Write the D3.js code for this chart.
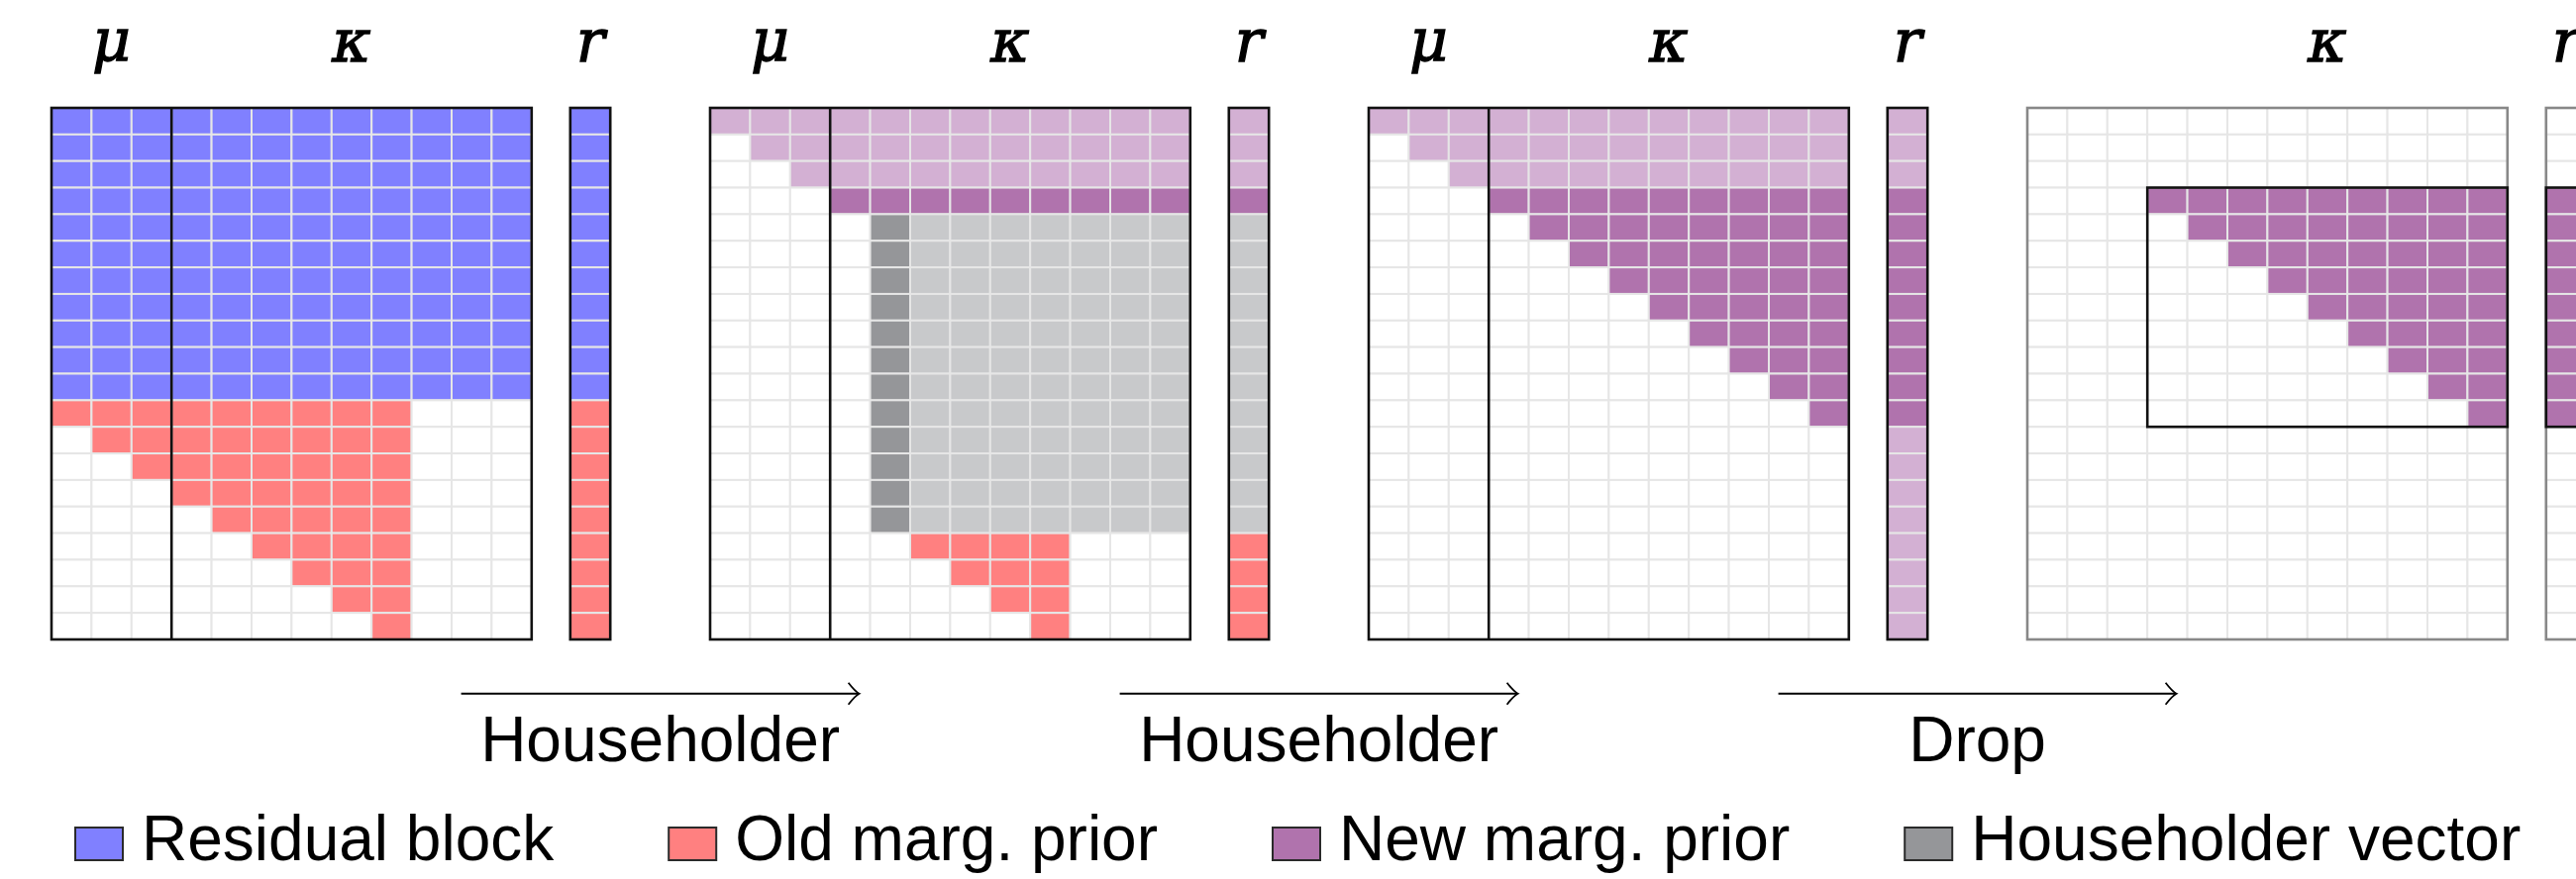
<!DOCTYPE html>
<html>
<head>
<meta charset="utf-8">
<script src="https://cdn.jsdelivr.net/npm/d3@7"></script>
<style>
  body { margin: 0; background: #fff; }
  svg { display: block; }
</style>
</head>
<body>
<div id="chart"></div>
<script>
// cell codes: B residual, R old prior, L/P light/dark new prior, G gray, H householder vector, . empty
var panel1Cells = [
	"BBBBBBBBBBBB", "BBBBBBBBBBBB", "BBBBBBBBBBBB", "BBBBBBBBBBBB",
	"BBBBBBBBBBBB", "BBBBBBBBBBBB", "BBBBBBBBBBBB", "BBBBBBBBBBBB",
	"BBBBBBBBBBBB", "BBBBBBBBBBBB", "BBBBBBBBBBBB",
	"RRRRRRRRR...", ".RRRRRRRR...", "..RRRRRRR...", "...RRRRRR...",
	"....RRRRR...", ".....RRRR...", "......RRR...", ".......RR...",
	"........R..."
];
var panel1R = "BBBBBBBBBBBRRRRRRRRR";

var panel2Cells = [
	"LLLLLLLLLLLL", ".LLLLLLLLLLL", "..LLLLLLLLLL", "...PPPPPPPPP",
	"....HGGGGGGG", "....HGGGGGGG", "....HGGGGGGG", "....HGGGGGGG",
	"....HGGGGGGG", "....HGGGGGGG", "....HGGGGGGG", "....HGGGGGGG",
	"....HGGGGGGG", "....HGGGGGGG", "....HGGGGGGG", "....HGGGGGGG",
	".....RRRR...", "......RRR...", ".......RR...", "........R..."
];
var panel2R = "LLLPGGGGGGGGGGGGRRRR";

var panel3Cells = [
	"LLLLLLLLLLLL", ".LLLLLLLLLLL", "..LLLLLLLLLL", "...PPPPPPPPP",
	"....PPPPPPPP", ".....PPPPPPP", "......PPPPPP", ".......PPPPP",
	"........PPPP", ".........PPP", "..........PP", "...........P",
	"............", "............", "............", "............",
	"............", "............", "............", "............"
];
var panel3R = "LLLPPPPPPPPPLLLLLLLL";

var panel4Cells = [
	"............", "............", "............", "...PPPPPPPPP",
	"....PPPPPPPP", ".....PPPPPPP", "......PPPPPP", ".......PPPPP",
	"........PPPP", ".........PPP", "..........PP", "...........P",
	"............", "............", "............", "............",
	"............", "............", "............", "............"
];
var panel4R = "...PPPPPPPPP........";

var cellCodes = ["B", "R", "L", "P", "G", "H", "."];
var cellColors = ["#8080ff", "#ff8080", "#d3b0d3", "#b073ad", "#c8c9cb", "#959699", "#ffffff"];

var stepLabels = ["Householder", "Householder", "Drop"];

var legendNames = ["Residual block", "Old marg. prior", "New marg. prior", "Householder vector"];
var legendCodes = ["B", "R", "P", "H"];

var panels = [
	{cells: panel1Cells, r: panel1R, mu: true, faded: false},
	{cells: panel2Cells, r: panel2R, mu: true, faded: false},
	{cells: panel3Cells, r: panel3R, mu: true, faded: false},
	{cells: panel4Cells, r: panel4R, mu: false, faded: true, box: [3, 12]}
];

var width = 2601, height = 888;
var nCols = 12, nRows = 20, nMu = 3;
var cw = 40.4, gridTop = 109, rowH = 26.85, rGap = 39;

var color = d3.scaleOrdinal().domain(cellCodes).range(cellColors);
var panelX = d3.scaleLinear().domain([0, 1]).range([52, 717]);
var colX = d3.scaleLinear().domain([0, nCols]).range([0, nCols * cw]);
var rowY = d3.scaleLinear().domain([0, nRows]).range([gridTop, gridTop + nRows * rowH]);
var rX = colX(nCols) + rGap;

var svg = d3.select("#chart").append("svg")
		.attr("width", width)
		.attr("height", height);

function cellList(rows) {
	var out = [];
	rows.forEach(function(s, i) {
		s.split("").forEach(function(c, j) {
			out.push({row: i, col: j, code: c});
		});
	});
	return out;
}

function buildPanel(p, k) {
	var g = svg.append("g").attr("transform", "translate(" + panelX(k) + ",0)");
	var edge = p.faded ? "#888888" : "#111111";

	g.selectAll("rect.cell")
			.data(cellList(p.cells))
			.enter()
			.append("rect")
			.attr("class", "cell")
			.attr("x", function(d) {return colX(d.col);})
			.attr("y", function(d) {return rowY(d.row);})
			.attr("width", cw)
			.attr("height", rowH)
			.style("fill", function(d) {return color(d.code);})
			.style("stroke", "#e6e6e6")
			.style("stroke-width", 2);

	g.selectAll("rect.rcell")
			.data(p.r.split(""))
			.enter()
			.append("rect")
			.attr("class", "rcell")
			.attr("x", rX)
			.attr("y", function(d, i) {return rowY(i);})
			.attr("width", cw)
			.attr("height", rowH)
			.style("fill", function(d) {return color(d);})
			.style("stroke", "#e6e6e6")
			.style("stroke-width", 2);

	// outlines
	g.append("rect")
			.attr("x", colX(0)).attr("y", rowY(0))
			.attr("width", colX(nCols) - colX(0)).attr("height", rowY(nRows) - rowY(0))
			.style("fill", "none").style("stroke", edge).style("stroke-width", 2.6);
	g.append("rect")
			.attr("x", rX).attr("y", rowY(0))
			.attr("width", cw).attr("height", rowY(nRows) - rowY(0))
			.style("fill", "none").style("stroke", edge).style("stroke-width", 2.6);

	if (p.mu) {
		g.append("line")
				.attr("x1", colX(nMu)).attr("x2", colX(nMu))
				.attr("y1", rowY(0)).attr("y2", rowY(nRows))
				.style("stroke", "#111").style("stroke-width", 2.6);
	}
	if (p.box) {
		g.append("rect")
				.attr("x", colX(nMu)).attr("y", rowY(p.box[0]))
				.attr("width", colX(nCols) - colX(nMu)).attr("height", rowY(p.box[1]) - rowY(p.box[0]))
				.style("fill", "none").style("stroke", "#111").style("stroke-width", 2.6);
		g.append("rect")
				.attr("x", rX).attr("y", rowY(p.box[0]))
				.attr("width", cw).attr("height", rowY(p.box[1]) - rowY(p.box[0]))
				.style("fill", "none").style("stroke", "#111").style("stroke-width", 2.6);
	}

	var labels = [];
	if (p.mu) labels.push({t: "\u03bc", x: colX(nMu / 2)});
	labels.push({t: "\u03ba", x: (colX(nMu) + colX(nCols)) / 2});
	labels.push({t: "r", x: rX + cw / 2});

	g.selectAll("text.sym")
			.data(labels)
			.enter()
			.append("text")
			.attr("class", "sym")
			.attr("x", function(d) {return d.x;})
			.attr("y", 62)
			.attr("text-anchor", "middle")
			.style("font-family", "'DejaVu Serif', serif")
			.style("font-style", "italic")
			.style("font-size", "60px")
			.style("stroke", "#000")
			.style("stroke-width", 1.3)
			.text(function(d) {return d.t;});
}

panels.forEach(buildPanel);

// arrows between panels
var arrows = svg.append("g").attr("id", "arrows");
stepLabels.forEach(function(lbl, i) {
	var mid = (panelX(i) + rX + cw + panelX(i + 1)) / 2;
	var x1 = mid - 201, x2 = mid + 201, ay = 700.7;
	arrows.append("line")
			.attr("x1", x1).attr("x2", x2 - 1)
			.attr("y1", ay).attr("y2", ay)
			.style("stroke", "#000").style("stroke-width", 2);
	arrows.append("path")
			.attr("d", "M" + (x2 - 11) + "," + (ay - 11) + " Q" + (x2 - 4) + "," + (ay - 2) + " " + x2 + "," + ay +
				" Q" + (x2 - 4) + "," + (ay + 2) + " " + (x2 - 11) + "," + (ay + 11))
			.style("fill", "none").style("stroke", "#000").style("stroke-width", 1.8);
	arrows.append("text")
			.attr("x", mid)
			.attr("y", 769)
			.attr("text-anchor", "middle")
			.style("font-family", "'Liberation Sans', Arial, sans-serif")
			.style("font-size", "64px")
			.text(lbl);
});

// legend
var legend = svg.append("g").attr("id", "legend");
var lx = 76;
legendNames.forEach(function(name, i) {
	legend.append("rect")
			.attr("x", lx).attr("y", 836)
			.attr("width", 48).attr("height", 33)
			.style("fill", color(legendCodes[i]))
			.style("stroke", "#2a2a2a").style("stroke-width", 2);
	var t = legend.append("text")
			.attr("x", lx + 67)
			.attr("y", 869)
			.style("font-family", "'Liberation Sans', Arial, sans-serif")
			.style("font-size", "64px")
			.text(name);
	lx = lx + 67 + t.node().getComputedTextLength() + 116;
});
</script>
</body>
</html>
